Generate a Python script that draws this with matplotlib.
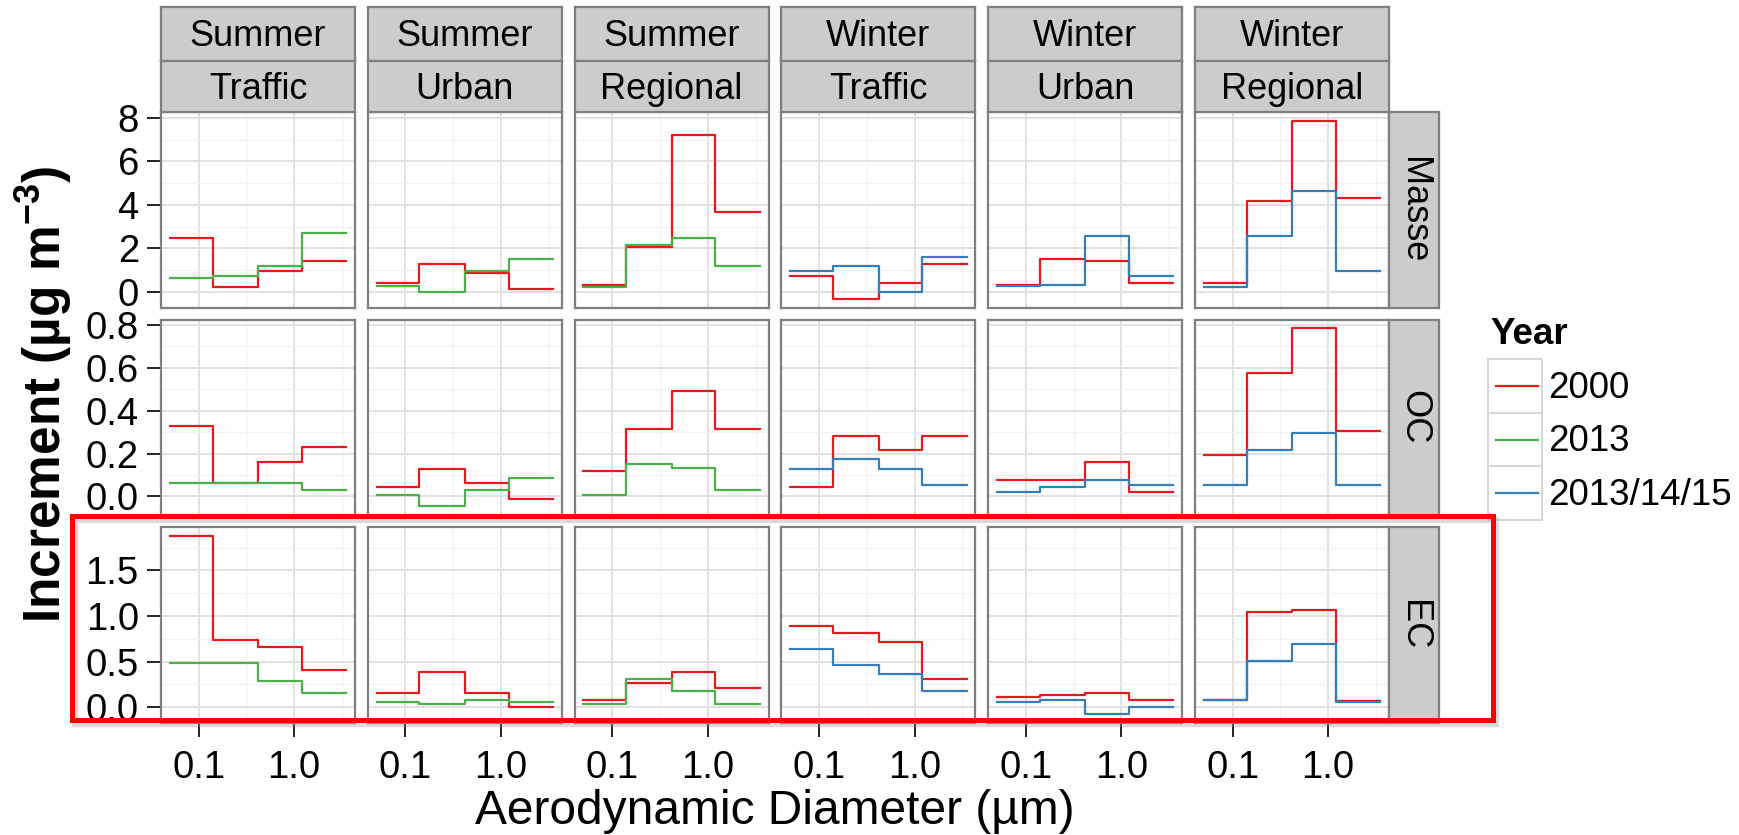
import numpy as np
import matplotlib
matplotlib.use('Agg')
import matplotlib.pyplot as plt
from matplotlib.patches import Rectangle
from matplotlib.lines import Line2D
from matplotlib.ticker import FixedLocator, NullFormatter

plt.rcParams['font.family'] = ['Liberation Sans', 'DejaVu Sans']
plt.rcParams['mathtext.default'] = 'regular'

# facets
seasons = ['Summer', 'Summer', 'Summer', 'Winter', 'Winter', 'Winter']
sites = ['Traffic', 'Urban', 'Regional', 'Traffic', 'Urban', 'Regional']
components = ['Masse', 'OC', 'EC']
years = ['2000', '2013', '2013/14/15']
year_colors = ['#E41A1C', '#4DAF4A', '#377EB8']

# impactor stage edges (um)
edges = [0.05, 0.14, 0.42, 1.2, 3.5]

# increments per panel (one list of 4 stages per facet column)
masse_2000 = [[2.48, 0.23, 0.98, 1.40], [0.43, 1.29, 0.88, 0.11], [0.32, 2.06, 7.22, 3.66],
              [0.75, -0.31, 0.43, 1.29], [0.31, 1.51, 1.40, 0.43], [0.43, 4.20, 7.86, 4.31]]
masse_later = [[0.66, 0.75, 1.20, 2.71], [0.25, 0.00, 0.97, 1.52], [0.23, 2.14, 2.49, 1.18],
               [0.97, 1.18, 0.00, 1.62], [0.25, 0.32, 2.58, 0.75], [0.23, 2.58, 4.63, 0.97]]
oc_2000 = [[0.327, 0.064, 0.163, 0.230], [0.042, 0.130, 0.064, -0.013], [0.119, 0.317, 0.492, 0.316],
           [0.042, 0.283, 0.219, 0.283], [0.075, 0.075, 0.163, 0.022], [0.195, 0.578, 0.784, 0.305]]
oc_later = [[0.064, 0.064, 0.064, 0.031], [0.009, -0.045, 0.031, 0.086], [0.009, 0.153, 0.131, 0.031],
            [0.130, 0.173, 0.130, 0.053], [0.020, 0.042, 0.075, 0.053], [0.053, 0.217, 0.295, 0.053]]
ec_2000 = [[1.88, 0.74, 0.66, 0.41], [0.156, 0.384, 0.156, 0.0], [0.08, 0.26, 0.384, 0.206],
           [0.888, 0.81, 0.71, 0.304], [0.105, 0.13, 0.156, 0.08], [0.08, 1.04, 1.07, 0.069]]
ec_later = [[0.486, 0.486, 0.283, 0.156], [0.058, 0.029, 0.08, 0.054], [0.029, 0.304, 0.18, 0.029],
            [0.638, 0.46, 0.359, 0.18], [0.058, 0.08, -0.072, 0.004], [0.08, 0.507, 0.688, 0.058]]

data_2000 = [masse_2000, oc_2000, ec_2000]
data_later = [masse_later, oc_later, ec_later]
later_year = ['2013', '2013', '2013', '2013/14/15', '2013/14/15', '2013/14/15']

y_breaks = [[0, 2, 4, 6, 8], [0.0, 0.2, 0.4, 0.6, 0.8], [0.0, 0.5, 1.0, 1.5]]
y_fmt = ['{:.0f}', '{:.1f}', '{:.1f}']

W, H = 1740, 835
fig = plt.figure(figsize=(W / 100, H / 100), dpi=100)


def box(l, t, w, h):
    return [l / W, 1 - (t + h) / H, w / W, h / H]


border = '#7F7F7F'
col_left = 161
col_step = 206.8
pw = 194
row_top = 112
row_step = 207.5
ph = 195.5
fs_tick = 27.5
fs_strip = 26
fs_legend = 26.5

# x limits like ggplot's 5% expansion on log scale
lx = np.log10([edges[0], edges[-1]])
xr = lx[1] - lx[0]
xlim = (10 ** (lx[0] - 0.05 * xr), 10 ** (lx[1] + 0.05 * xr))

for r, comp in enumerate(components):
    allv = np.concatenate([np.ravel(data_2000[r]), np.ravel(data_later[r])])
    yr = allv.max() - allv.min()
    ylim = (allv.min() - 0.05 * yr, allv.max() + 0.05 * yr)
    br = y_breaks[r]
    step = br[1] - br[0]
    minors = [(a + b) / 2 for a, b in zip(br[:-1], br[1:])] + [br[-1] + step / 2, br[0] - step / 2]
    for c in range(6):
        ax = fig.add_axes(box(col_left + c * col_step, row_top + r * row_step, pw, ph))
        for series, yname in [(data_2000[r][c], '2000'), (data_later[r][c], later_year[c])]:
            ax.step(edges, list(series) + [series[-1]], where='post',
                    color=year_colors[years.index(yname)], lw=1.6, zorder=3)
        ax.set_xscale('log')
        ax.set_xlim(xlim)
        ax.set_ylim(ylim)
        ax.xaxis.set_major_locator(FixedLocator([0.1, 1.0]))
        ax.xaxis.set_minor_locator(FixedLocator([10 ** -1.5, 10 ** -0.5, 10 ** 0.5]))
        ax.xaxis.set_minor_formatter(NullFormatter())
        ax.yaxis.set_major_locator(FixedLocator(br))
        ax.yaxis.set_minor_locator(FixedLocator(minors))
        ax.grid(True, which='major', color='#E2E2E2', lw=1.4, zorder=0)
        ax.grid(True, which='minor', color='#F2F2F2', lw=0.9, zorder=0)
        ax.set_axisbelow(True)
        ax.tick_params(which='minor', length=0)
        ax.tick_params(which='major', length=10, width=1.4, color='#222222', labelsize=fs_tick, pad=6)
        for s in ax.spines.values():
            s.set_color(border)
            s.set_linewidth(1.6)
        if c == 0:
            ax.set_yticklabels([y_fmt[r].format(v) for v in br])
        else:
            ax.tick_params(axis='y', which='major', length=0, labelleft=False)
        if r == 2:
            ax.set_xticklabels(['0.1', '1.0'])
            ax.tick_params(axis='x', which='major', length=10, pad=10)
        else:
            ax.tick_params(axis='x', which='major', length=0, labelbottom=False)

    # right strip
    sax = fig.add_axes(box(col_left + 5 * col_step + pw, row_top + r * row_step, 50, ph))
    sax.set_facecolor('#CCCCCC')
    sax.set_xticks([])
    sax.set_yticks([])
    for s in sax.spines.values():
        s.set_color(border)
        s.set_linewidth(1.6)
    sax.text(0.5, 0.5, comp, rotation=-90, ha='center', va='center', fontsize=fs_strip,
             transform=sax.transAxes)

# top strips
for c in range(6):
    for lab, top, hh in [(seasons[c], 7, 54), (sites[c], 61, 51)]:
        sax = fig.add_axes(box(col_left + c * col_step, top, pw, hh))
        sax.set_facecolor('#CCCCCC')
        sax.set_xticks([])
        sax.set_yticks([])
        for s in sax.spines.values():
            s.set_color(border)
            s.set_linewidth(1.6)
        sax.text(0.5, 0.45, lab, ha='center', va='center', fontsize=fs_strip, transform=sax.transAxes)

# axis titles
fig.text(775 / W, 1 - 812 / H, 'Aerodynamic Diameter (µm)', ha='center', va='center', fontsize=34.5)
fig.text(44 / W, 1 - 394 / H, 'Increment (µg m$^{-3}$)', rotation=90, ha='center', va='center',
         fontsize=37, fontweight='bold')

# legend
fig.text(1490 / W, 1 - 335 / H, 'Year', ha='left', va='center', fontsize=fs_legend, fontweight='bold')
for i, (yname, col) in enumerate(zip(years, year_colors)):
    top = 359 + i * 53.7
    fig.add_artist(Rectangle((1488 / W, 1 - (top + 53.7) / H), 54 / W, 53.7 / H, transform=fig.transFigure,
                             facecolor='white', edgecolor='#D6D6D6', lw=1.4))
    fig.add_artist(Line2D([1496 / W, 1538 / W], [1 - (top + 27) / H] * 2, transform=fig.transFigure,
                          color=col, lw=1.6))
    fig.text(1548 / W, 1 - (top + 29) / H, yname, ha='left', va='center', fontsize=fs_legend)

# red highlight box around EC row (with soft shadow)
fig.add_artist(Rectangle((75 / W, 1 - 724 / H), 1421 / W, 204 / H, transform=fig.transFigure,
                         fill=False, edgecolor='#999999', lw=4.5, alpha=0.35, zorder=9))
fig.add_artist(Rectangle((72 / W, 1 - 720 / H), 1421 / W, 204 / H, transform=fig.transFigure,
                         fill=False, edgecolor='#FF0000', lw=3.6, zorder=10))

fig.savefig('out.png', dpi=100)
